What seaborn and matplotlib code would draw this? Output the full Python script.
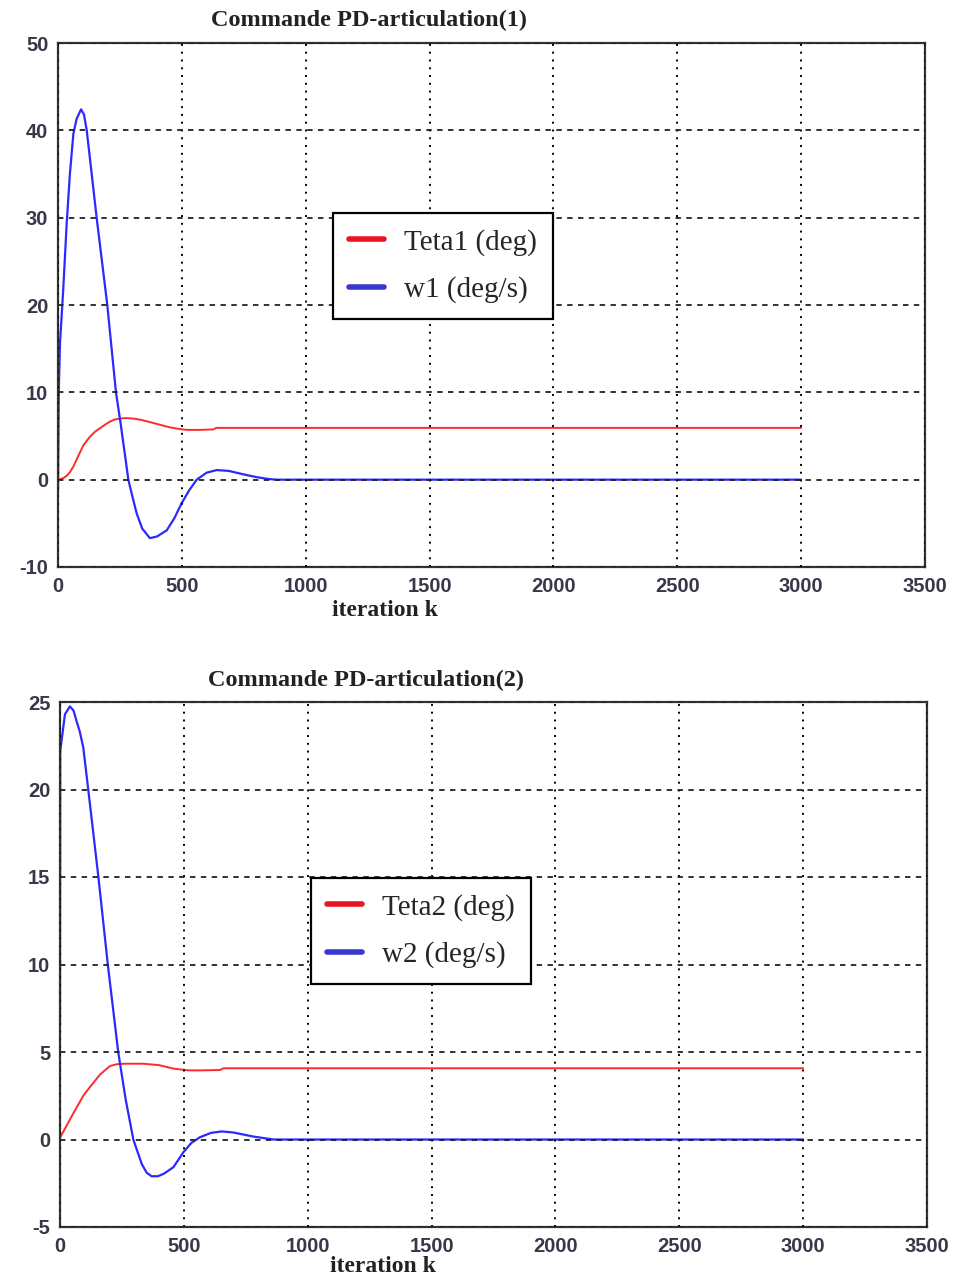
import numpy as np
import pandas as pd
import matplotlib
matplotlib.use('Agg')
import matplotlib.pyplot as plt
import seaborn as sns

# values
k_teta1 = [0, 20, 35, 48, 62, 75, 90, 102, 120, 135, 150, 170, 190, 210, 230, 250, 275, 303, 335,
           370, 410, 450, 490, 520, 570, 626, 640, 3000]
teta1 = [0, 0.15, 0.45, 0.85, 1.5, 2.3, 3.2, 3.9, 4.6, 5.1, 5.5, 5.9, 6.3, 6.65, 6.9, 7.0, 7.05, 7.0, 6.85,
         6.6, 6.3, 6.0, 5.8, 5.7, 5.7, 5.75, 5.93, 5.93]

k_w1 = [0, 3, 8, 21, 35, 48, 62, 75, 93, 105, 116, 156, 199, 234, 253, 284, 300, 318, 340,
        371, 400, 439, 470, 499, 530, 560, 600, 641, 690, 750, 800, 843, 880, 3000]
w1 = [-1.5, 10, 15.6, 21.7, 29.3, 35, 39.6, 41.3, 42.4, 41.8, 40, 30, 20, 10, 6.4, 0, -1.9, -3.9, -5.6,
      -6.7, -6.5, -5.8, -4.4, -2.7, -1.2, 0, 0.8, 1.1, 1.0, 0.6, 0.3, 0.1, 0, 0]

k_teta2 = [0, 50, 94, 121, 161, 185, 202, 229, 260, 336, 400, 458, 520, 565, 646, 660, 3000]
teta2 = [0.1, 1.4, 2.5, 3.0, 3.7, 4.0, 4.2, 4.3, 4.33, 4.33, 4.25, 4.05, 3.95, 3.95, 3.97, 4.07, 4.07]

k_w2 = [0, 1, 20, 40, 55, 67, 80, 94, 114, 155, 193, 235, 265, 296, 330, 350, 370, 395, 420, 458, 498, 530,
        565, 610, 653, 700, 780, 861, 3000]
w2 = [6.5, 22.2, 24.3, 24.75, 24.5, 23.9, 23.3, 22.4, 20, 15, 10, 5, 2.3, 0, -1.4, -1.9, -2.1, -2.1, -1.95,
      -1.58, -0.73, -0.2, 0.13, 0.38, 0.46, 0.4, 0.17, 0, 0]

titles = ['Commande PD-articulation(1)', 'Commande PD-articulation(2)']
labels = [('Teta1 (deg)', 'w1 (deg/s)'), ('Teta2 (deg)', 'w2 (deg/s)')]
ylims = [(-10, 50), (-5, 25)]
yticks = [np.arange(-10, 51, 10), np.arange(-5, 26, 5)]
xticks = np.arange(0, 3501, 500)

red = '#ff2a2a'
blue = '#2a2aff'

sns.set_style('white')
plt.rcParams['font.family'] = ['Liberation Sans', 'DejaVu Sans']
plt.rcParams['axes.unicode_minus'] = False

fig = plt.figure(figsize=(9.57, 12.76), dpi=100)
ax1 = fig.add_axes([58/957, 1-567/1276, 867/957, 524/1276])
ax2 = fig.add_axes([60/957, 1-1227/1276, 867/957, 525/1276])

series = [(k_teta1, teta1, k_w1, w1), (k_teta2, teta2, k_w2, w2)]
leg_pos = [(0.317, 0.676), (0.289, 0.665)]
title_pos = [(369, 20), (366, 680)]
xlab_pos = [(385, 610), (383, 1267)]

for i, ax in enumerate([ax1, ax2]):
    kt, t, kw, w = series[i]
    sns.lineplot(x=kt, y=t, ax=ax, color=red, lw=1.4, label=labels[i][0],
                 estimator=None, sort=False)
    sns.lineplot(x=kw, y=w, ax=ax, color=blue, lw=1.6, label=labels[i][1],
                 estimator=None, sort=False)
    ax.set_xlim(0, 3500)
    ax.set_ylim(*ylims[i])
    ax.set_xticks(xticks)
    ax.set_yticks(yticks[i])
    ax.set_axisbelow(False)
    ax.xaxis.grid(True, color='black', lw=1.4, linestyle=(0, (1, 3)))
    ax.yaxis.grid(True, color='#222222', lw=1.3, linestyle=(0, (3, 3)))
    for s in ax.spines.values():
        s.set_color('#333333')
        s.set_linewidth(1.6)
    ax.tick_params(direction='in', length=5, width=1.2, labelsize=14.5,
                   labelcolor='#383848', pad=7)
    for lab in ax.get_xticklabels() + ax.get_yticklabels():
        lab.set_fontweight('bold')
    ax.set_xlabel('')
    ax.set_ylabel('')
    leg = ax.legend(loc='upper left', bbox_to_anchor=leg_pos[i], borderaxespad=0,
                    fancybox=False, edgecolor='black', framealpha=1,
                    prop={'family': 'Liberation Serif', 'size': 21},
                    handlelength=1.2, handletextpad=0.7, borderpad=0.55, labelspacing=0.7)
    leg.get_frame().set_linewidth(1.6)
    hl = leg.get_lines()
    hl[0].set_color('#e81520')
    hl[1].set_color('#3838d0')
    for h in hl:
        h.set_linewidth(4)
    fig.text(title_pos[i][0]/957, 1-title_pos[i][1]/1276, titles[i], ha='center', va='center',
             family='Liberation Serif', fontweight='bold', fontsize=17.5, color='#222222')
    fig.text(xlab_pos[i][0]/957, 1-xlab_pos[i][1]/1276, 'iteration k', ha='center', va='center',
             family='Liberation Serif', fontweight='bold', fontsize=17, color='#222222')

plt.savefig('out.png', dpi=100)
